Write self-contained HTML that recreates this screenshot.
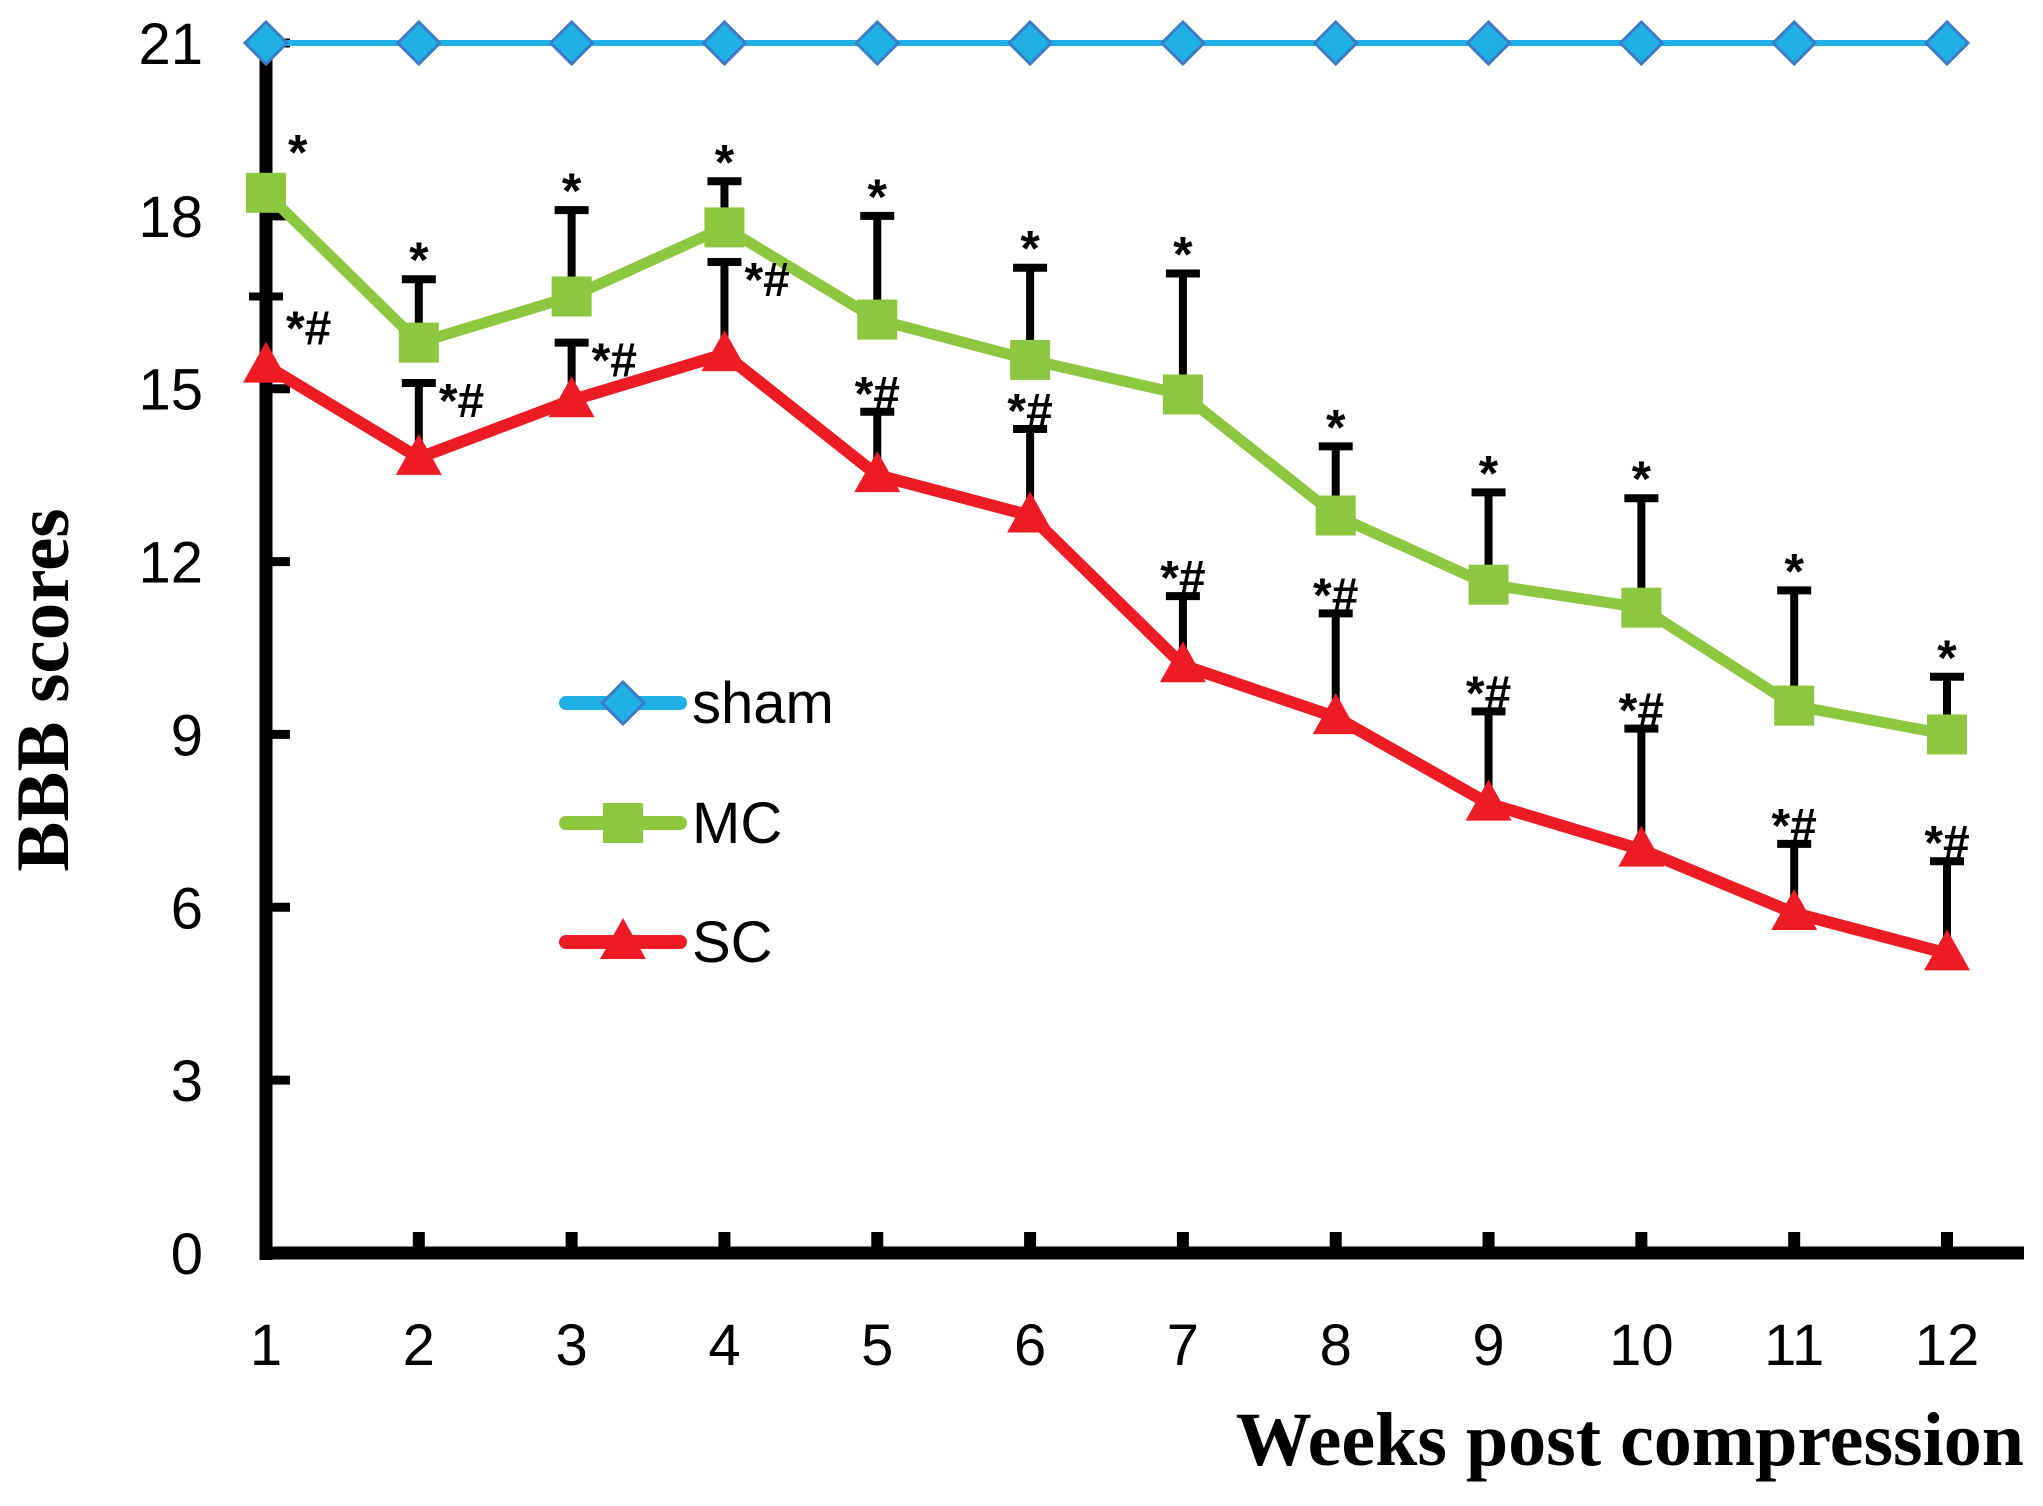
<!DOCTYPE html>
<html><head><meta charset="utf-8"><style>
html,body{margin:0;padding:0;background:#fff;}
svg{display:block;}
</style></head><body>
<svg id="chart" width="2043" height="1506" viewBox="0 0 2043 1506" xmlns="http://www.w3.org/2000/svg">
<g id="plot"></g>
</svg>
<script>
const weeks = [1,2,3,4,5,6,7,8,9,10,11,12];
const yTicks = [0,3,6,9,12,15,18,21];
const shamVals = [21,21,21,21,21,21,21,21,21,21,21,21];
const mcVals = [18.4,15.8,16.6,17.8,16.2,15.5,14.9,12.8,11.6,11.2,9.5,9.0];
const mcErrTop = [18.6,16.9,18.1,18.6,18.0,17.1,17.0,14.0,13.2,13.1,11.5,10.0];
const scVals = [15.4,13.8,14.8,15.6,13.5,12.8,10.2,9.3,7.8,7.0,5.9,5.2];
const scErrTop = [16.6,15.1,15.8,17.2,14.6,14.3,11.4,11.1,9.4,9.1,7.1,6.8];
const mcSig = ["*","*","*","*","*","*","*","*","*","*","*","*"];
const scSig = ["*#","*#","*#","*#","*#","*#","*#","*#","*#","*#","*#","*#"];

const NS="http://www.w3.org/2000/svg";
const g=document.getElementById('plot');
const x=w=>266+(w-1)*(1947-266)/11;
const y=v=>1253-v*(1253-43)/21;
function mk(t,a,p){const e=document.createElementNS(NS,t);for(const k in a)e.setAttribute(k,a[k]);(p||g).appendChild(e);return e;}

const yAxis=mk('line',{x1:266,y1:36,x2:266,y2:1260,stroke:'#000','stroke-width':13});


const xAxis=mk('line',{x1:260,y1:1253,x2:2024,y2:1253,stroke:'#000','stroke-width':13});


yTicks.forEach(v=>{
  const t=mk('line',{x1:266,y1:y(v),x2:290,y2:y(v),stroke:'#000','stroke-width':9});
  
  
  const l=mk('text',{x:203,y:y(v)+21,'text-anchor':'end','font-family':'Liberation Sans, sans-serif','font-size':58,fill:'#000'});
  
  
  l.textContent=v;
});
weeks.forEach(w=>{
  const t=mk('line',{x1:x(w),y1:1253,x2:x(w),y2:1232,stroke:'#000','stroke-width':12});
  
  
  const l=mk('text',{x:x(w),y:1365,'text-anchor':'middle','font-family':'Liberation Sans, sans-serif','font-size':58,fill:'#000'});
  
  
  l.textContent=w;
});
const xt=mk('text',{x:2024,y:1465,'text-anchor':'end','font-family':'Liberation Serif, serif','font-size':76,'font-weight':'bold',fill:'#000'});


xt.textContent='Weeks post compression';
const yt=mk('text',{x:0,y:0,transform:'translate(68,690) rotate(-90)','text-anchor':'middle','font-family':'Liberation Serif, serif','font-size':75,'font-weight':'bold',fill:'#000'});


yt.textContent='BBB scores';

function errBars(vals,tops,name){
  weeks.forEach((w,i)=>{
    const e=mk('path',{d:`M${x(w)},${y(vals[i])} V${y(tops[i])} M${x(w)-17},${y(tops[i])} H${x(w)+17}`,stroke:'#000','stroke-width':8,fill:'none'});
    
    
  });
}
errBars(mcVals,mcErrTop,'mc');
errBars(scVals,scErrTop,'sc');

function line(vals,color,w,name){
  const p=mk('polyline',{points:weeks.map((wk,i)=>x(wk)+','+y(vals[i])).join(' '),stroke:color,'stroke-width':w,fill:'none','stroke-linejoin':'miter'});
  
  
}
line(shamVals,'#1fb0e6',6,'sham');
line(mcVals,'#8dc63f',11,'mc');
line(scVals,'#ed1c24',12,'sc');

function diamond(cx,cy,name){const m=mk('polygon',{points:`${cx-21},${cy} ${cx},${cy-21} ${cx+21},${cy} ${cx},${cy+21}`,fill:'#1fb0e6',stroke:'#3d7cc4','stroke-width':3});
  
  }
function square(cx,cy,name){const m=mk('rect',{x:cx-20,y:cy-20,width:40,height:40,fill:'#8dc63f'});
  
  }
function tri(cx,cy,name){const m=mk('polygon',{points:`${cx},${cy-24} ${cx+23},${cy+17} ${cx-23},${cy+17}`,fill:'#ed1c24'});
  
  }
weeks.forEach((w,i)=>{diamond(x(w),y(shamVals[i]),'sham-point');});
weeks.forEach((w,i)=>{square(x(w),y(mcVals[i]),'mc-point');});
weeks.forEach((w,i)=>{tri(x(w),y(scVals[i]),'sc-point');});

const sigFont='Liberation Sans, sans-serif';
weeks.forEach((w,i)=>{
  const off=i===0?22:0;
  const t=mk('text',{x:x(w)+off,y:y(mcErrTop[i])-(i===0?12:2),'text-anchor':i===0?'start':'middle','font-family':sigFont,'font-size':50,'font-weight':'bold',fill:'#000'});
  
  
  t.textContent=mcSig[i];
  const side=i<4;
  const s=mk('text',{x:side?x(w)+20:x(w),y:side?y(scErrTop[i])+(i===0?48:34):y(scErrTop[i])-2,'text-anchor':side?'start':'middle','font-family':sigFont,'font-size':48,'font-weight':'bold',fill:'#000'});
  
  
  s.textContent=scSig[i];
});

const legend=[['sham','#1fb0e6',703,diamond],['MC','#8dc63f',823,square],['SC','#ed1c24',942,tri]];
legend.forEach(([lab,col,ly,fn])=>{
  const l=mk('line',{x1:566,y1:ly,x2:680,y2:ly,stroke:col,'stroke-width':14,'stroke-linecap':'round'});
  
  
  fn(623,ly,'legend-marker');
  const t=mk('text',{x:692,y:ly+20,'font-family':'Liberation Sans, sans-serif','font-size':58,fill:'#000'});
  
  
  t.textContent=lab;
});
</script>
</body></html>
